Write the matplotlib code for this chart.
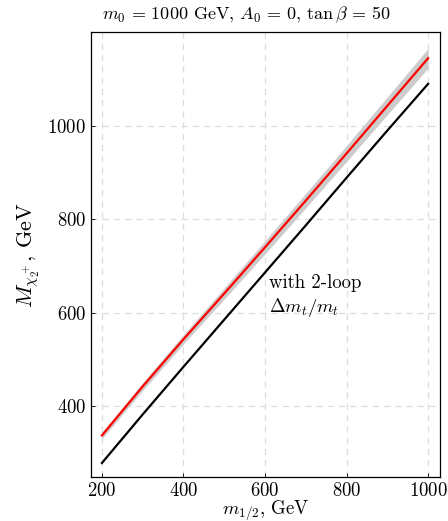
import matplotlib
matplotlib.use("Agg")
import matplotlib.pyplot as plt
import numpy as np

plt.rcParams['font.family'] = 'serif'
plt.rcParams['font.serif'] = ['cmr10', 'DejaVu Serif']
plt.rcParams['mathtext.fontset'] = 'cm'
plt.rcParams['axes.formatter.use_mathtext'] = True

m_half = [200, 300, 400, 500, 600, 700, 800, 900, 1000]
mass_2loop = [337, 442, 543, 641, 740, 840, 941, 1043, 1145]
band_halfwidth = [7, 8.5, 10, 12, 14, 15.5, 17, 19, 21]
mass_1loop = [278, 382, 484, 585, 686, 787, 889, 990, 1090]

x = np.array(m_half)
r = np.array(mass_2loop)
bw = np.array(band_halfwidth)
b = np.array(mass_1loop)

fig = plt.figure(figsize=(4.48, 5.21), dpi=100)
ax = fig.add_axes([0.203, 0.0845, 0.779, 0.854])

ax.fill_between(x, r - bw, r + bw, color='#cccccc', lw=0, zorder=2)
ax.plot(x, r, color='red', lw=1.6, zorder=3)
ax.plot(x, b, color='black', lw=1.6, zorder=3)

ax.set_xlim(173, 1029)
ax.set_ylim(248, 1201)
ax.set_xticks([200, 400, 600, 800, 1000])
ax.set_yticks([400, 600, 800, 1000])
ax.grid(True, color='#dddddd', ls=(0, (5, 4)), lw=0.9)
ax.set_axisbelow(True)
ax.tick_params(direction='in', length=3, labelsize=13.5, width=0.6)
for s in ax.spines.values():
    s.set_linewidth(0.9)

ax.set_xlabel(r'$m_{1/2}$, GeV', fontsize=13.5, labelpad=-1)
ax.set_ylabel(r'$M_{\chi_2^+}$, GeV', fontsize=16, labelpad=4)
fig.text(0.549, 1 - 15 / 521, r'$m_0\, =\, 1000$ GeV, $A_0\, =\, 0$, $\tan\beta\, =\, 50$',
         fontsize=13, ha='center', va='center')

ax.text(610, 683, 'with 2-loop\n' + r'$\Delta m_t/m_t$', fontsize=13.5,
        va='top', ha='left', linespacing=1.25)

fig.savefig('out.png', dpi=100)
